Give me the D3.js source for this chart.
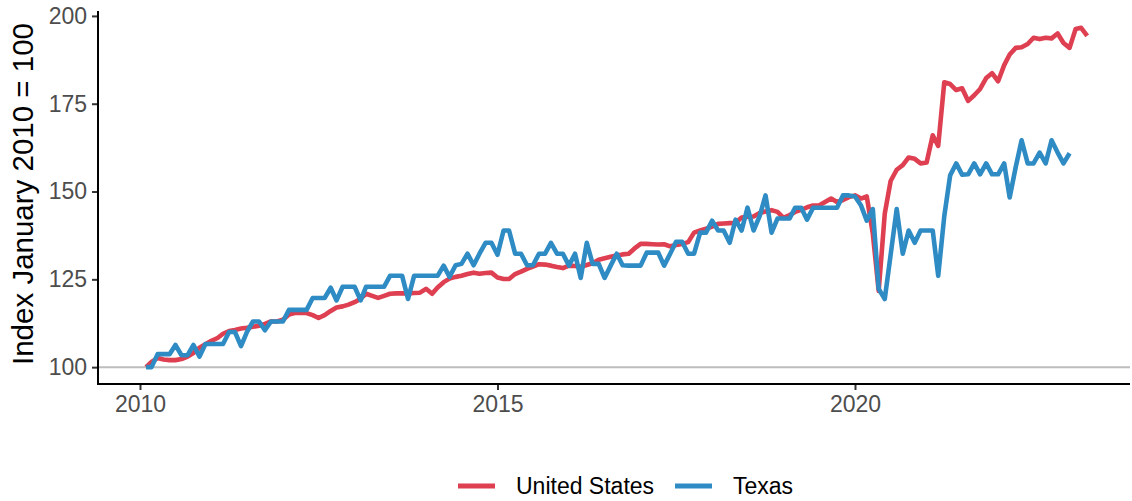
<!DOCTYPE html>
<html>
<head>
<meta charset="utf-8">
<script src="https://cdn.jsdelivr.net/npm/d3@7"></script>
<style>
  body { margin: 0; background: #fff; }
  svg { display: block; font-family: "Liberation Sans", Arial, sans-serif; }
</style>
</head>
<body>
<svg id="chart"></svg>
<script>
(function () {
var width = 1132, height = 501

// monthly index values, first month = Feb 2010
var firstMonth = new Date(2010, 1, 1)
var usIndex = [100,101.5,102.6,102.2,102,102,102.3,103,104,105.5,
    106.5,107.5,108.3,109.5,110.3,110.6,111,111.2,111.5,111.8,
    112.3,113,113,113.5,115,115.4,115.4,115.4,114.8,114,
    114.8,116,117,117.3,117.8,118.5,119.5,120.9,120.3,119.7,
    120.3,120.9,121,121,121,121.1,121.2,122.3,120.9,122.7,
    124.2,125.2,125.7,126,126.5,126.9,126.6,126.8,126.9,125.5,
    125.1,125.1,126.5,127.2,128,128.6,129.3,129.2,128.9,128.5,
    128.2,128.9,128.8,128.6,129.1,129.6,130.6,131,131.4,131.8,
    132.1,132.3,133.8,135.1,135.1,135,134.9,135,134.4,134.8,
    135.1,135.6,138.3,138.9,139.4,140,140.8,140.9,141,141.1,
    142.6,142.8,142.9,143.9,144.3,144.7,144.2,142.5,143.3,144.2,
    144.8,145.5,146,146,147,148,147,147.6,148.4,148.9,
    148,148.6,138,121.7,143.7,153,156.2,157.5,159.7,159.3,
    158,158.3,166,163,181.1,180.6,178.9,179.4,175.8,177.4,
    179.2,182.3,183.7,181.4,186,189,190.9,191.1,192,193.8,
    193.4,193.8,193.6,195,192.3,190.9,196.3,196.6,194.3]
var texasIndex = [100,100,103.7,103.7,103.7,106.3,103.4,103.4,106.3,103,
    106.6,106.6,106.6,106.6,110,110,106,110,113,113,
    110.5,113,113,113,116.3,116.3,116.3,116.3,119.7,119.7,
    119.7,122.6,119,122.9,122.9,122.9,119,122.9,122.9,122.9,
    122.9,126,126,126,119.4,126,126,126,126,126,
    128.9,125.7,129,129.4,132.3,129,132.3,135.4,135.4,132,
    138.9,138.9,132.3,132.3,129,129,132.3,132.3,135.4,132.3,
    132.3,128.9,132.3,125.4,135.4,129.4,129.4,125.4,128.9,132.3,
    129,128.9,128.9,128.9,132.6,132.6,132.6,128.9,132.3,135.7,
    135.7,132.3,132.3,138.3,138.3,141.7,138.9,138.9,135.4,142,
    138.9,145.4,138.9,143,148.9,138.3,142.3,142.3,142.3,145.4,
    145.4,142,145.4,145.4,145.4,145.4,145.4,148.9,148.9,148.6,
    146,141.7,145,122.3,119.4,132,145,132.3,138.9,135.4,
    138.9,138.9,138.9,126,143,154.6,158,154.8,154.9,158,
    154.9,158,154.9,154.9,158,148.3,157,164.6,158,158,
    161.1,158,164.6,161.1,158,160.9]
var yTicks = [100, 125, 150, 175, 200]
var xTicks = [2010, 2015, 2020]
var seriesNames = ['United States', 'Texas']

var red = '#de3f51'
var blue = '#2e8bc3'

var svg = d3.select('#chart')
            .attr('width', width)
            .attr('height', height)

var left = 98, right = 1130, top = 11, bottom = 384

var x = d3.scaleTime()
    .domain([new Date(2010, 0, 1), new Date(2020, 0, 1)])
    .range([140, 855])
var y = d3.scaleLinear()
    .domain([95.2, 201.4])
    .range([bottom, top])

function toPoints(values) {
    return values.map((v, i) => ({date: d3.timeMonth.offset(firstMonth, i), value: v}))
}
var series = [
    {name: seriesNames[0], color: red, points: toPoints(usIndex)},
    {name: seriesNames[1], color: blue, points: toPoints(texasIndex)},
]

// reference line at 100
svg.append('line')
    .attr('x1', left).attr('x2', right)
    .attr('y1', y(100)).attr('y2', y(100))
    .attr('stroke', '#bdbdbd')
    .attr('stroke-width', 2)

var line = d3.line()
    .x(d => x(d.date))
    .y(d => y(d.value))

svg.selectAll('path.series')
    .data(series)
    .enter()
    .append('path')
    .attr('class', 'series')
    .attr('d', d => line(d.points))
    .attr('fill', 'none')
    .attr('stroke', d => d.color)
    .attr('stroke-width', 4.6)
    .attr('stroke-linejoin', 'round')

// y axis
var yAxis = svg.append('g')
    .attr('transform', 'translate(' + left + ',0)')
    .call(d3.axisLeft(y).tickValues(yTicks).tickSize(6).tickPadding(5))
yAxis.select('.domain').remove()
yAxis.append('line')
    .attr('x1', 0).attr('x2', 0)
    .attr('y1', top).attr('y2', bottom + 1)
    .attr('stroke', '#000').attr('stroke-width', 2)
yAxis.selectAll('.tick line').attr('stroke', '#333').attr('stroke-width', 2)
yAxis.selectAll('.tick text')
    .attr('fill', '#4d4d4d')
    .style('font-size', '23px')
    .style('font-family', '"Liberation Sans", Arial, sans-serif')

// x axis
var xAxis = svg.append('g')
    .attr('transform', 'translate(0,' + bottom + ')')
    .call(d3.axisBottom(x)
        .tickValues(xTicks.map(yr => new Date(yr, 0, 1)))
        .tickFormat(d3.timeFormat('%Y'))
        .tickSize(6).tickPadding(6))
xAxis.select('.domain').remove()
xAxis.append('line')
    .attr('x1', left - 1).attr('x2', right)
    .attr('y1', 0).attr('y2', 0)
    .attr('stroke', '#000').attr('stroke-width', 2)
xAxis.selectAll('.tick line').attr('stroke', '#333').attr('stroke-width', 2)
xAxis.selectAll('.tick text')
    .attr('fill', '#4d4d4d')
    .style('font-size', '23px')
    .style('font-family', '"Liberation Sans", Arial, sans-serif')

// y title
svg.append('text')
    .attr('transform', 'translate(33,194) rotate(-90)')
    .attr('text-anchor', 'middle')
    .style('font-size', '29.5px')
    .attr('fill', '#000')
    .text('Index January 2010 = 100')

// legend
var legend = svg.append('g').attr('transform', 'translate(0,486)')
var keyX = [458, 675]
legend.selectAll('g')
    .data(series)
    .enter()
    .append('g')
    .attr('transform', (d, i) => 'translate(' + keyX[i] + ',0)')
    .each(function (d) {
        var g = d3.select(this)
        g.append('line')
            .attr('x1', 0).attr('x2', 37)
            .attr('y1', 0).attr('y2', 0)
            .attr('stroke', d.color)
            .attr('stroke-width', 5)
        g.append('text')
            .attr('x', 58)
            .attr('y', 8)
            .style('font-size', '23px')
            .attr('fill', '#000')
            .text(d.name)
    })
})();
</script>
</body>
</html>
